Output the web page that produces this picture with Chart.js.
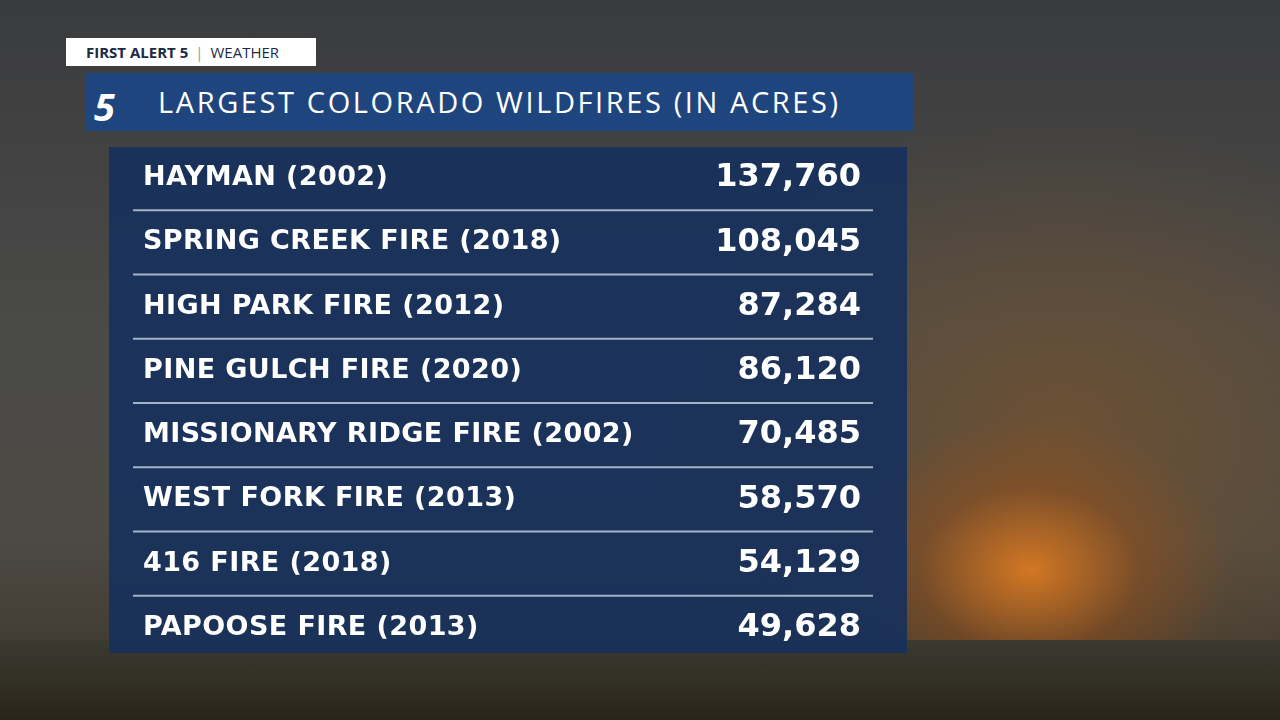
<!DOCTYPE html>
<html>
<head>
<meta charset="utf-8">
<script src="https://cdn.jsdelivr.net/npm/chart.js@4/dist/chart.umd.min.js"></script>
<style>
  body { margin: 0; width: 1280px; height: 720px; overflow: hidden; font-family: "Open Sans", sans-serif; }
  .bg {
    position: absolute; inset: 0;
    background:
      radial-gradient(ellipse 200px 150px at 1030px 570px, rgba(240,130,30,0.8), rgba(160,80,20,0.4) 55%, rgba(0,0,0,0) 100%),
      radial-gradient(ellipse 420px 320px at 1060px 430px, rgba(130,85,40,0.6), rgba(0,0,0,0) 100%),
      linear-gradient(180deg, #3a3b3d 0%, #4a4a48 45%, #4d4a44 75%, #3a3328 100%);
  }
  .ground { position: absolute; left: 0; right: 0; top: 640px; bottom: 0; background: linear-gradient(180deg, #3b3a30, #2a2519); }
  .tag { position: absolute; left: 66px; top: 38px; width: 250px; height: 28px; background: #fff;
    font-size: 15px; color: #1d2a44; line-height: 28px; padding-left: 20px; box-sizing: border-box; }
  .tag b { font-weight: 700; }
  .tag span { color: #999; margin: 0 7px; }
  .title { position: absolute; left: 86px; top: 73px; width: 827px; height: 58px; background: rgba(30,70,130,0.95);
    color: #fff; font-size: 29px; line-height: 58px; padding-left: 72px; box-sizing: border-box; letter-spacing: 2.6px; }
  .logo { position: absolute; left: 94px; top: 80px; font: 700 38px "Open Sans"; color: #fff; font-style: italic; }
  .panel { position: absolute; left: 109px; top: 147px; width: 798px; height: 506px; background: rgba(22,48,92,0.9); overflow: hidden; }
  .panel canvas { position: absolute; left: 0; top: -1px; }
</style>
</head>
<body>
<div class="bg"></div>
<div class="ground"></div>
<div class="tag"><b>FIRST ALERT 5</b><span>|</span>WEATHER</div>
<div class="title">LARGEST COLORADO WILDFIRES (IN ACRES)</div>
<div class="logo">5</div>
<div class="panel"><canvas id="c" width="798" height="514"></canvas></div>
<script>
const fireNames = ['HAYMAN (2002)', 'SPRING CREEK FIRE (2018)', 'HIGH PARK FIRE (2012)', 'PINE GULCH FIRE (2020)',
  'MISSIONARY RIDGE FIRE (2002)', 'WEST FORK FIRE (2013)', '416 FIRE (2018)', 'PAPOOSE FIRE (2013)'];
const acres = [137760, 108045, 87284, 86120, 70485, 58570, 54129, 49628];

const tablePlugin = {
  id: 'table',
  afterDraw(chart) {
    const ctx = chart.ctx;
    const y = chart.scales.y;
    ctx.save();
    ctx.strokeStyle = 'rgba(200,210,225,0.8)';
    ctx.lineWidth = 2;
    for (let i = 0; i < fireNames.length - 1; i++) {
      const yy = (y.getPixelForValue(i) + y.getPixelForValue(i + 1)) / 2;
      ctx.beginPath(); ctx.moveTo(24, yy); ctx.lineTo(764, yy); ctx.stroke();
    }
    ctx.fillStyle = '#fff';
    ctx.textBaseline = 'middle';
    fireNames.forEach((name, i) => {
      const yy = y.getPixelForValue(i);
      ctx.font = '700 27px "DejaVu Sans"';
      ctx.letterSpacing = '0.4px';
      ctx.textAlign = 'left';
      ctx.fillText(name, 34, yy);
      ctx.letterSpacing = '0px';
      ctx.font = '700 32px "DejaVu Sans"';
      ctx.textAlign = 'right';
      ctx.fillText(acres[i].toLocaleString('en-US'), 752, yy);
    });
    ctx.restore();
  }
};

new Chart(document.getElementById('c'), {
  type: 'bar',
  data: { labels: fireNames, datasets: [{ data: acres, backgroundColor: 'rgba(0,0,0,0)' }] },
  options: {
    indexAxis: 'y',
    responsive: false,
    animation: false,
    layout: { padding: 0 },
    plugins: { legend: { display: false }, tooltip: { enabled: false } },
    scales: {
      x: { display: false, min: 0, max: 150000 },
      y: { display: false }
    }
  },
  plugins: [tablePlugin]
});
</script>
</body>
</html>
